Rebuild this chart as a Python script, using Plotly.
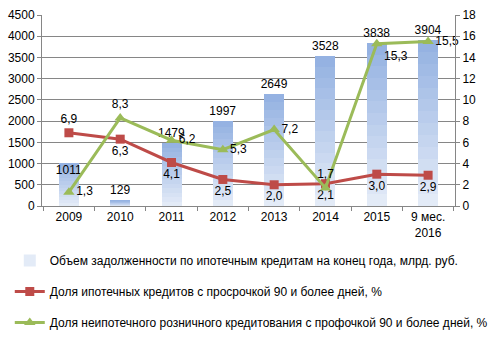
import plotly.graph_objects as go

categories = ["2009", "2010", "2011", "2012", "2013", "2014", "2015", "9 мес.<br>2016"]
debt_volume = [1011, 129, 1479, 1997, 2649, 3528, 3838, 3904]
mortgage_overdue = [6.9, 6.3, 4.1, 2.5, 2.0, 2.1, 3.0, 2.9]
nonmortgage_overdue = [1.3, 8.3, 6.2, 5.3, 7.2, 1.7, 15.3, 15.5]

name_bar = "Объем задолженности по ипотечным кредитам на конец года, млрд. руб."
name_red = "Доля ипотечных кредитов с просрочкой 90 и более дней, %"
name_green = "Доля неипотечного розничного кредитования с профочкой 90 и более дней, %"

FONT = "Liberation Sans"
FS = 12
RED = "#be4b48"
GREEN = "#9bbb59"

# vertical gradient for the bars: light at the bottom, darker at the top
N_SEG = 14
c_bottom = (0xe6, 0xed, 0xf8)
c_top = (0x92, 0xb0, 0xe1)


def mix(t):
    return "rgb(%d,%d,%d)" % tuple(round(a + (b - a) * t) for a, b in zip(c_bottom, c_top))


fig = go.Figure()
for i in range(N_SEG):
    last = i == N_SEG - 1
    fig.add_trace(go.Bar(
        x=categories, y=[v / N_SEG for v in debt_volume],
        name=name_bar, width=0.39,
        marker=dict(color=mix((i + 0.5) / N_SEG), line=dict(width=0)),
        showlegend=(i == 0), legendgroup="a", hoverinfo="skip",
        text=[str(v) for v in debt_volume] if last else None,
        textposition=["inside"] + ["outside"] * 7 if last else None,
        insidetextanchor="end", constraintext="none",
        textfont=dict(size=FS, color="#000"), cliponaxis=False,
        yaxis="y",
    ))
fig.add_trace(go.Scatter(
    x=categories, y=mortgage_overdue, name=name_red, yaxis="y2",
    mode="lines+markers+text",
    line=dict(color=RED, width=3),
    marker=dict(symbol="square", size=9, color=RED),
    text=[f"{v:.1f}".replace(".", ",") for v in mortgage_overdue],
    textposition=["top center"] + ["bottom center"] * 7,
    textfont=dict(size=FS, color="#000"),
    legendgroup="b", cliponaxis=False,
))
fig.add_trace(go.Scatter(
    x=categories, y=nonmortgage_overdue, name=name_green, yaxis="y2",
    mode="lines+markers+text",
    line=dict(color=GREEN, width=3),
    marker=dict(symbol="triangle-up", size=10, color=GREEN),
    text=[f"{v:.1f}".replace(".", ",") for v in nonmortgage_overdue],
    textposition=["middle right", "top center", "middle right", "middle right",
                  "middle right", "top center", "bottom right", "middle right"],
    textfont=dict(size=FS, color="#000"),
    legendgroup="c", cliponaxis=False,
))

axis_common = dict(
    showline=True, linecolor="#868686", linewidth=1,
    ticks="outside", ticklen=4, tickcolor="#868686",
    tickfont=dict(size=FS, color="#000", family=FONT),
    zeroline=False,
)

fig.update_layout(
    width=489, height=337,
    margin=dict(l=42, r=34, t=15, b=131, autoexpand=False),
    paper_bgcolor="white", plot_bgcolor="white",
    font=dict(family=FONT, size=FS, color="#000"),
    barmode="stack",
    xaxis=dict(**axis_common, tickson="boundaries", showgrid=False,
               tickangle=0, automargin=False),
    yaxis=dict(**axis_common, range=[0, 4500], dtick=500,
               showgrid=True, gridcolor="#868686", gridwidth=1, automargin=False),
    yaxis2=dict(**axis_common, range=[0, 18], dtick=2, overlaying="y",
                side="right", showgrid=False, automargin=False),
    legend=dict(orientation="v", xref="container", yref="container",
                x=0.02, y=0.27, yanchor="top", xanchor="left",
                font=dict(size=FS, family=FONT),
                tracegroupgap=12, traceorder="grouped", itemwidth=30),
    showlegend=True,
)

fig.write_html("out.html", config={"displayModeBar": False},
               post_script="document.body.style.margin='0';")
